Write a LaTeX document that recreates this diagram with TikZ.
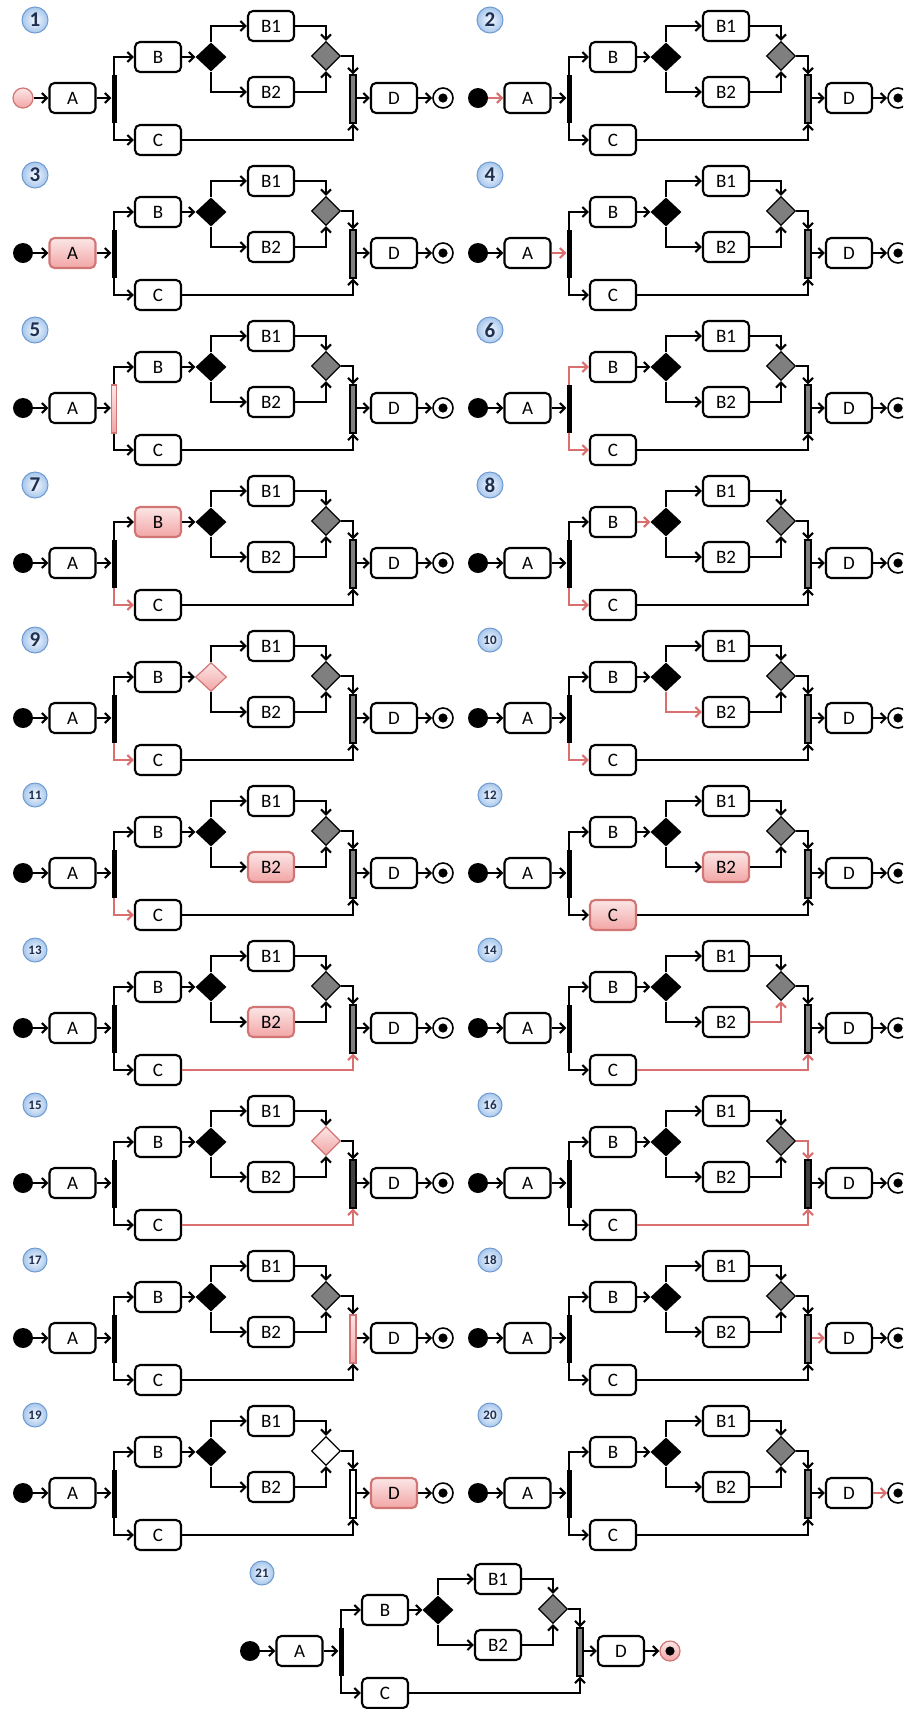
\documentclass[tikz,border=0pt]{standalone}
\usepackage{fontspec}
\setmainfont{Carlito}
\usetikzlibrary{shapes.geometric,arrows.meta}
\definecolor{hlTop}{HTML}{FCE6E6}
\definecolor{hlBot}{HTML}{F2A5A5}
\definecolor{hlEdge}{HTML}{D27575}
\definecolor{hlArr}{HTML}{D9706F}
\definecolor{mergeGray}{HTML}{7F7F7F}
\definecolor{badgeEdge}{HTML}{6F9BD1}
\definecolor{badgeIn}{HTML}{F6F9FE}
\definecolor{badgeOut}{HTML}{A6C6EC}
\definecolor{badgeText}{HTML}{1F2F4F}
\tikzset{
  box/.style={draw=black, line width=2.1pt, rounded corners=5pt, minimum width=46pt,
    minimum height=30pt, fill=white, inner sep=0pt, font=\fontsize{19}{19}\selectfont},
  hlbox/.style={fill=hlBot, top color=hlTop, bottom color=hlBot, draw=hlEdge},
  hlshape/.style={fill=hlBot, top color=hlTop, bottom color=hlBot, draw=hlEdge, line width=1.2pt},
  arr/.style={draw=black, line width=2.1pt, -{Straight Barb[length=5pt,width=10pt]}},
  hlarr/.style={draw=hlArr},
  badge/.style={circle, draw=badgeEdge, line width=1pt, inner color=badgeIn, outer color=badgeOut,
    minimum size=26pt, inner sep=0pt, text=badgeText, font=\fontsize{21}{21}\selectfont\bfseries},
  badgesmall/.style={minimum size=24pt, font=\fontsize{13}{13}\selectfont\bfseries},
  eI/.style={circle, fill=black, minimum size=20pt, inner sep=0pt},
  eA/.style={box}, eB/.style={box}, eC/.style={box},
  eBa/.style={box}, eBb/.style={box}, eD/.style={box},
  eFork/.style={rectangle, fill=black, minimum width=5pt, minimum height=48pt, inner sep=0pt},
  eJoin/.style={rectangle, draw=black, line width=1.3pt, fill=mergeGray, minimum width=6pt,
    minimum height=48pt, inner sep=0pt},
  eDec/.style={diamond, fill=black, minimum width=31pt, minimum height=29pt, inner sep=0pt},
  eMerge/.style={diamond, draw=black, line width=1.3pt, fill=mergeGray, minimum width=29pt,
    minimum height=29pt, inner sep=0pt},
  eF/.style={circle, draw=black, line width=1.6pt, fill=white, minimum size=20pt, inner sep=0pt},
  aIA/.style={arr}, aAF/.style={arr}, aFB/.style={arr}, aFC/.style={arr}, aBD/.style={arr},
  aDBa/.style={arr}, aDBb/.style={arr}, aBaM/.style={arr}, aBbM/.style={arr}, aMJ/.style={arr},
  aCJ/.style={arr}, aJD/.style={arr}, aDF/.style={arr}
}
\newcommand{\flowpanel}[4]{%
\begin{scope}[shift={(#1,#2)}, name prefix=p#3-, #4]
  \ifnum#3>9\relax
    \node[badge,badgesmall] (N) at (12,-78) {#3};
  \else
    \node[badge] (N) at (12,-78) {#3};
  \fi
  \node[eI] (I) at (0,0) {};
  \node[eA] (A) at (49.5,0) {A};
  \node[eFork] (Fk) at (91,1) {};
  \node[eB] (B) at (135,-41) {B};
  \node[eC] (C) at (135,42) {C};
  \node[eDec] (Dc) at (188,-41) {};
  \node[eBa] (B1) at (248,-72) {B1};
  \node[eBb] (B2) at (248,-6) {B2};
  \node[eMerge] (M) at (303,-42) {};
  \node[eJoin] (J) at (330,1) {};
  \node[eD] (D) at (371,0) {D};
  \node[eF] (F) at (420,0) {};
  \fill[black] (F) circle[radius=4.6pt];
  \draw[aIA] (I) -- (A);
  \draw[aAF] (A.east) -- (A.east -| Fk.west);
  \draw[aFB] (Fk.north) |- (B.west);
  \draw[aFC] (Fk.south) |- (C.west);
  \draw[aBD] (B.east) -- (Dc.west);
  \draw[aDBa] (Dc.north) |- (B1.west);
  \draw[aDBb] (Dc.south) |- (B2.west);
  \draw[aBaM] (B1.east) -| (M.north);
  \draw[aBbM] (B2.east) -| (M.south);
  \draw[aMJ] (M.east) -| (J.north);
  \draw[aCJ] (C.east) -| (J.south);
  \draw[aJD] (J.east |- D.west) -- (D.west);
  \draw[aDF] (D.east) -- (F.west);
\end{scope}}
\begin{document}
\begin{tikzpicture}[x=1pt,y=-1pt]
\useasboundingbox (0,0) rectangle (903,1709);
\fill[white] (0,0) rectangle (903,1709);
\clip (0,0) rectangle (903,1709);
\flowpanel{23}{98}{1}{eI/.append style=hlshape}
\flowpanel{478}{98}{2}{aIA/.append style=hlarr}
\flowpanel{23}{253}{3}{eA/.append style=hlbox}
\flowpanel{478}{253}{4}{aAF/.append style=hlarr}
\flowpanel{23}{408}{5}{eFork/.append style=hlshape}
\flowpanel{478}{408}{6}{aFB/.append style=hlarr, aFC/.append style=hlarr}
\flowpanel{23}{563}{7}{eB/.append style=hlbox, aFC/.append style=hlarr}
\flowpanel{478}{563}{8}{aBD/.append style=hlarr, aFC/.append style=hlarr}
\flowpanel{23}{718}{9}{eDec/.append style=hlshape, aFC/.append style=hlarr}
\flowpanel{478}{718}{10}{aDBb/.append style=hlarr, aFC/.append style=hlarr}
\flowpanel{23}{873}{11}{eBb/.append style=hlbox, aFC/.append style=hlarr}
\flowpanel{478}{873}{12}{eBb/.append style=hlbox, eC/.append style=hlbox}
\flowpanel{23}{1028}{13}{eBb/.append style=hlbox, aCJ/.append style=hlarr}
\flowpanel{478}{1028}{14}{aBbM/.append style=hlarr, aCJ/.append style=hlarr}
\flowpanel{23}{1183}{15}{eMerge/.append style=hlshape, aCJ/.append style=hlarr, eJoin/.append style={fill=black!75}}
\flowpanel{478}{1183}{16}{aMJ/.append style=hlarr, aCJ/.append style=hlarr, eJoin/.append style={fill=black!75}}
\flowpanel{23}{1338}{17}{eJoin/.append style=hlshape}
\flowpanel{478}{1338}{18}{aJD/.append style=hlarr}
\flowpanel{23}{1493}{19}{eD/.append style=hlbox, eMerge/.append style={fill=white}, eJoin/.append style={fill=white}}
\flowpanel{478}{1493}{20}{aDF/.append style=hlarr}
\flowpanel{250}{1651}{21}{eF/.append style=hlshape}
\end{tikzpicture}
\end{document}
